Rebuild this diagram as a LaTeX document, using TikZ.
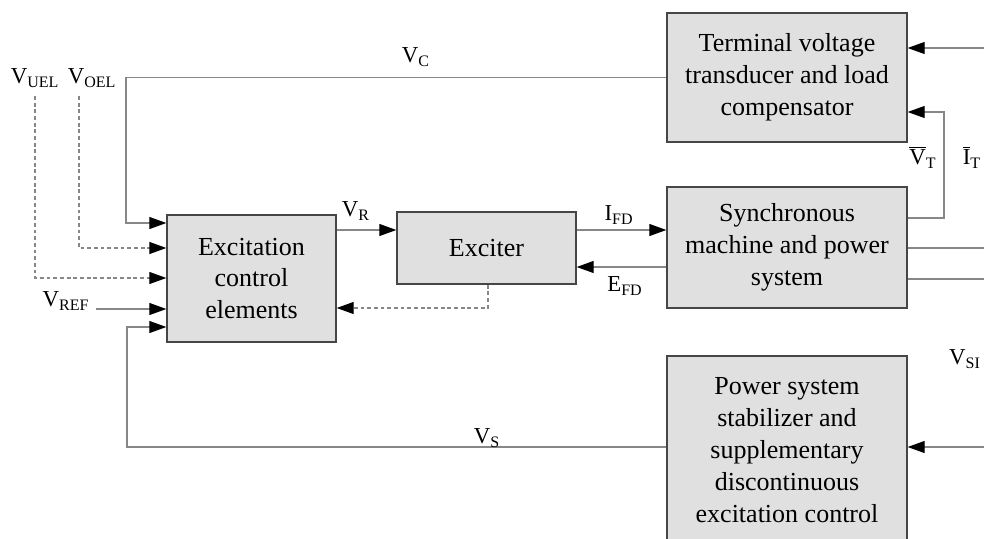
\documentclass[tikz,border=0pt]{standalone}
\usepackage{amsmath}
\usepackage{fontspec}
\setmainfont{Liberation Serif}
\usetikzlibrary{arrows.meta}

\definecolor{boxfill}{RGB}{224,224,224}
\definecolor{boxline}{RGB}{70,70,70}
\definecolor{wire}{RGB}{135,135,135}

\begin{document}
\begin{tikzpicture}[x=0.02cm, y=-0.02cm]
   \tikzset{BlockStyle/.style={draw=boxline, line width=0.8pt, fill=boxfill,
      align=center, inner sep=0pt, font=\fontsize{14.8}{18.2}\selectfont}}
   \tikzset{SigStyle/.style={draw=wire, line width=0.6pt,
      -{Triangle[length=3.4mm, width=2.4mm, color=black]}}}
   \tikzset{DashSig/.style={SigStyle, dash pattern=on 2.2pt off 1.6pt}}
   \tikzset{WireStyle/.style={draw=wire, line width=0.6pt}}
   \tikzset{LabelStyle/.style={inner sep=0pt, font=\fontsize{13}{15}\selectfont}}

   \useasboundingbox (0,0) rectangle (984,538);
   \clip (0,0) rectangle (984,538);

   \node[BlockStyle, minimum width=4.8cm, minimum height=2.58cm] (term) at (787,77.5)
      {Terminal voltage\\transducer and load\\compensator};
   \node[BlockStyle, minimum width=4.8cm, minimum height=2.42cm] (sync) at (787,247.5)
      {Synchronous\\machine and power\\system};
   \node[BlockStyle, minimum width=4.8cm, minimum height=3.76cm] (pss) at (787,450)
      {Power system\\stabilizer and\\supplementary\\discontinuous\\excitation control};
   \node[BlockStyle, minimum width=3.58cm, minimum height=1.44cm] (exciter) at (486.5,248)
      {Exciter};
   \node[BlockStyle, minimum width=3.38cm, minimum height=2.54cm] (ece) at (251.5,278.5)
      {Excitation\\control\\elements};

   \coordinate (uel) at (35,96);
   \coordinate (oel) at (79,96);
   \coordinate (ref) at (96,309);
   \coordinate (itin) at (984,48);
   \coordinate (sysa) at (984,248);
   \coordinate (sysb) at (984,279);
   \coordinate (siin) at (984,447);

   % feedback and reference inputs
   \draw[SigStyle] (term.west) -| (126,223) -- (ece.west |- 0,223);
   \draw[DashSig] (oel) |- (ece.west |- 0,248);
   \draw[DashSig] (uel) |- (ece.west |- 0,278);
   \draw[SigStyle] (ref) -- (ece.west |- 0,309);
   \draw[SigStyle] (pss.west |- 0,447) -| (127,327) -- (ece.west |- 0,327);

   % forward path
   \draw[SigStyle] (ece.east |- 0,230) -- (exciter.west |- 0,230);
   \draw[SigStyle] (exciter.east |- 0,230) -- (sync.west |- 0,230);
   \draw[SigStyle] (sync.west |- 0,267) -- (exciter.east |- 0,267);
   \draw[DashSig] (exciter.south -| 488,0) |- (ece.east |- 0,308);

   % right side
   \draw[SigStyle] (sync.east |- 0,218) -- (944,218) |- (term.east |- 0,112);
   \draw[SigStyle] (itin) -- (term.east |- itin);
   \draw[WireStyle] (sync.east |- sysa) -- (sysa);
   \draw[WireStyle] (sync.east |- sysb) -- (sysb);
   \draw[SigStyle] (siin) -- (pss.east |- siin);

   \node[LabelStyle] (lc) at (416,57) {V\textsubscript{C}};
   \node[LabelStyle] (luel) at (35,78) {V\textsubscript{UEL}};
   \node[LabelStyle] (loel) at (92,78) {V\textsubscript{OEL}};
   \node[LabelStyle] (lref) at (66,301) {V\textsubscript{REF}};
   \node[LabelStyle] (lr) at (356,211) {V\textsubscript{R}};
   \node[LabelStyle] (lifd) at (619,215) {I\textsubscript{FD}};
   \node[LabelStyle] (lefd) at (625,286) {E\textsubscript{FD}};
   \node[LabelStyle] (lvt) at (923,157) {$\overline{\text{V}}$\textsubscript{T}};
   \node[LabelStyle] (lit) at (972,157) {$\overline{\text{I}}$\textsubscript{T}};
   \node[LabelStyle] (lsi) at (965,359) {V\textsubscript{SI}};
   \node[LabelStyle] (ls) at (487,438) {V\textsubscript{S}};
\end{tikzpicture}
\end{document}
